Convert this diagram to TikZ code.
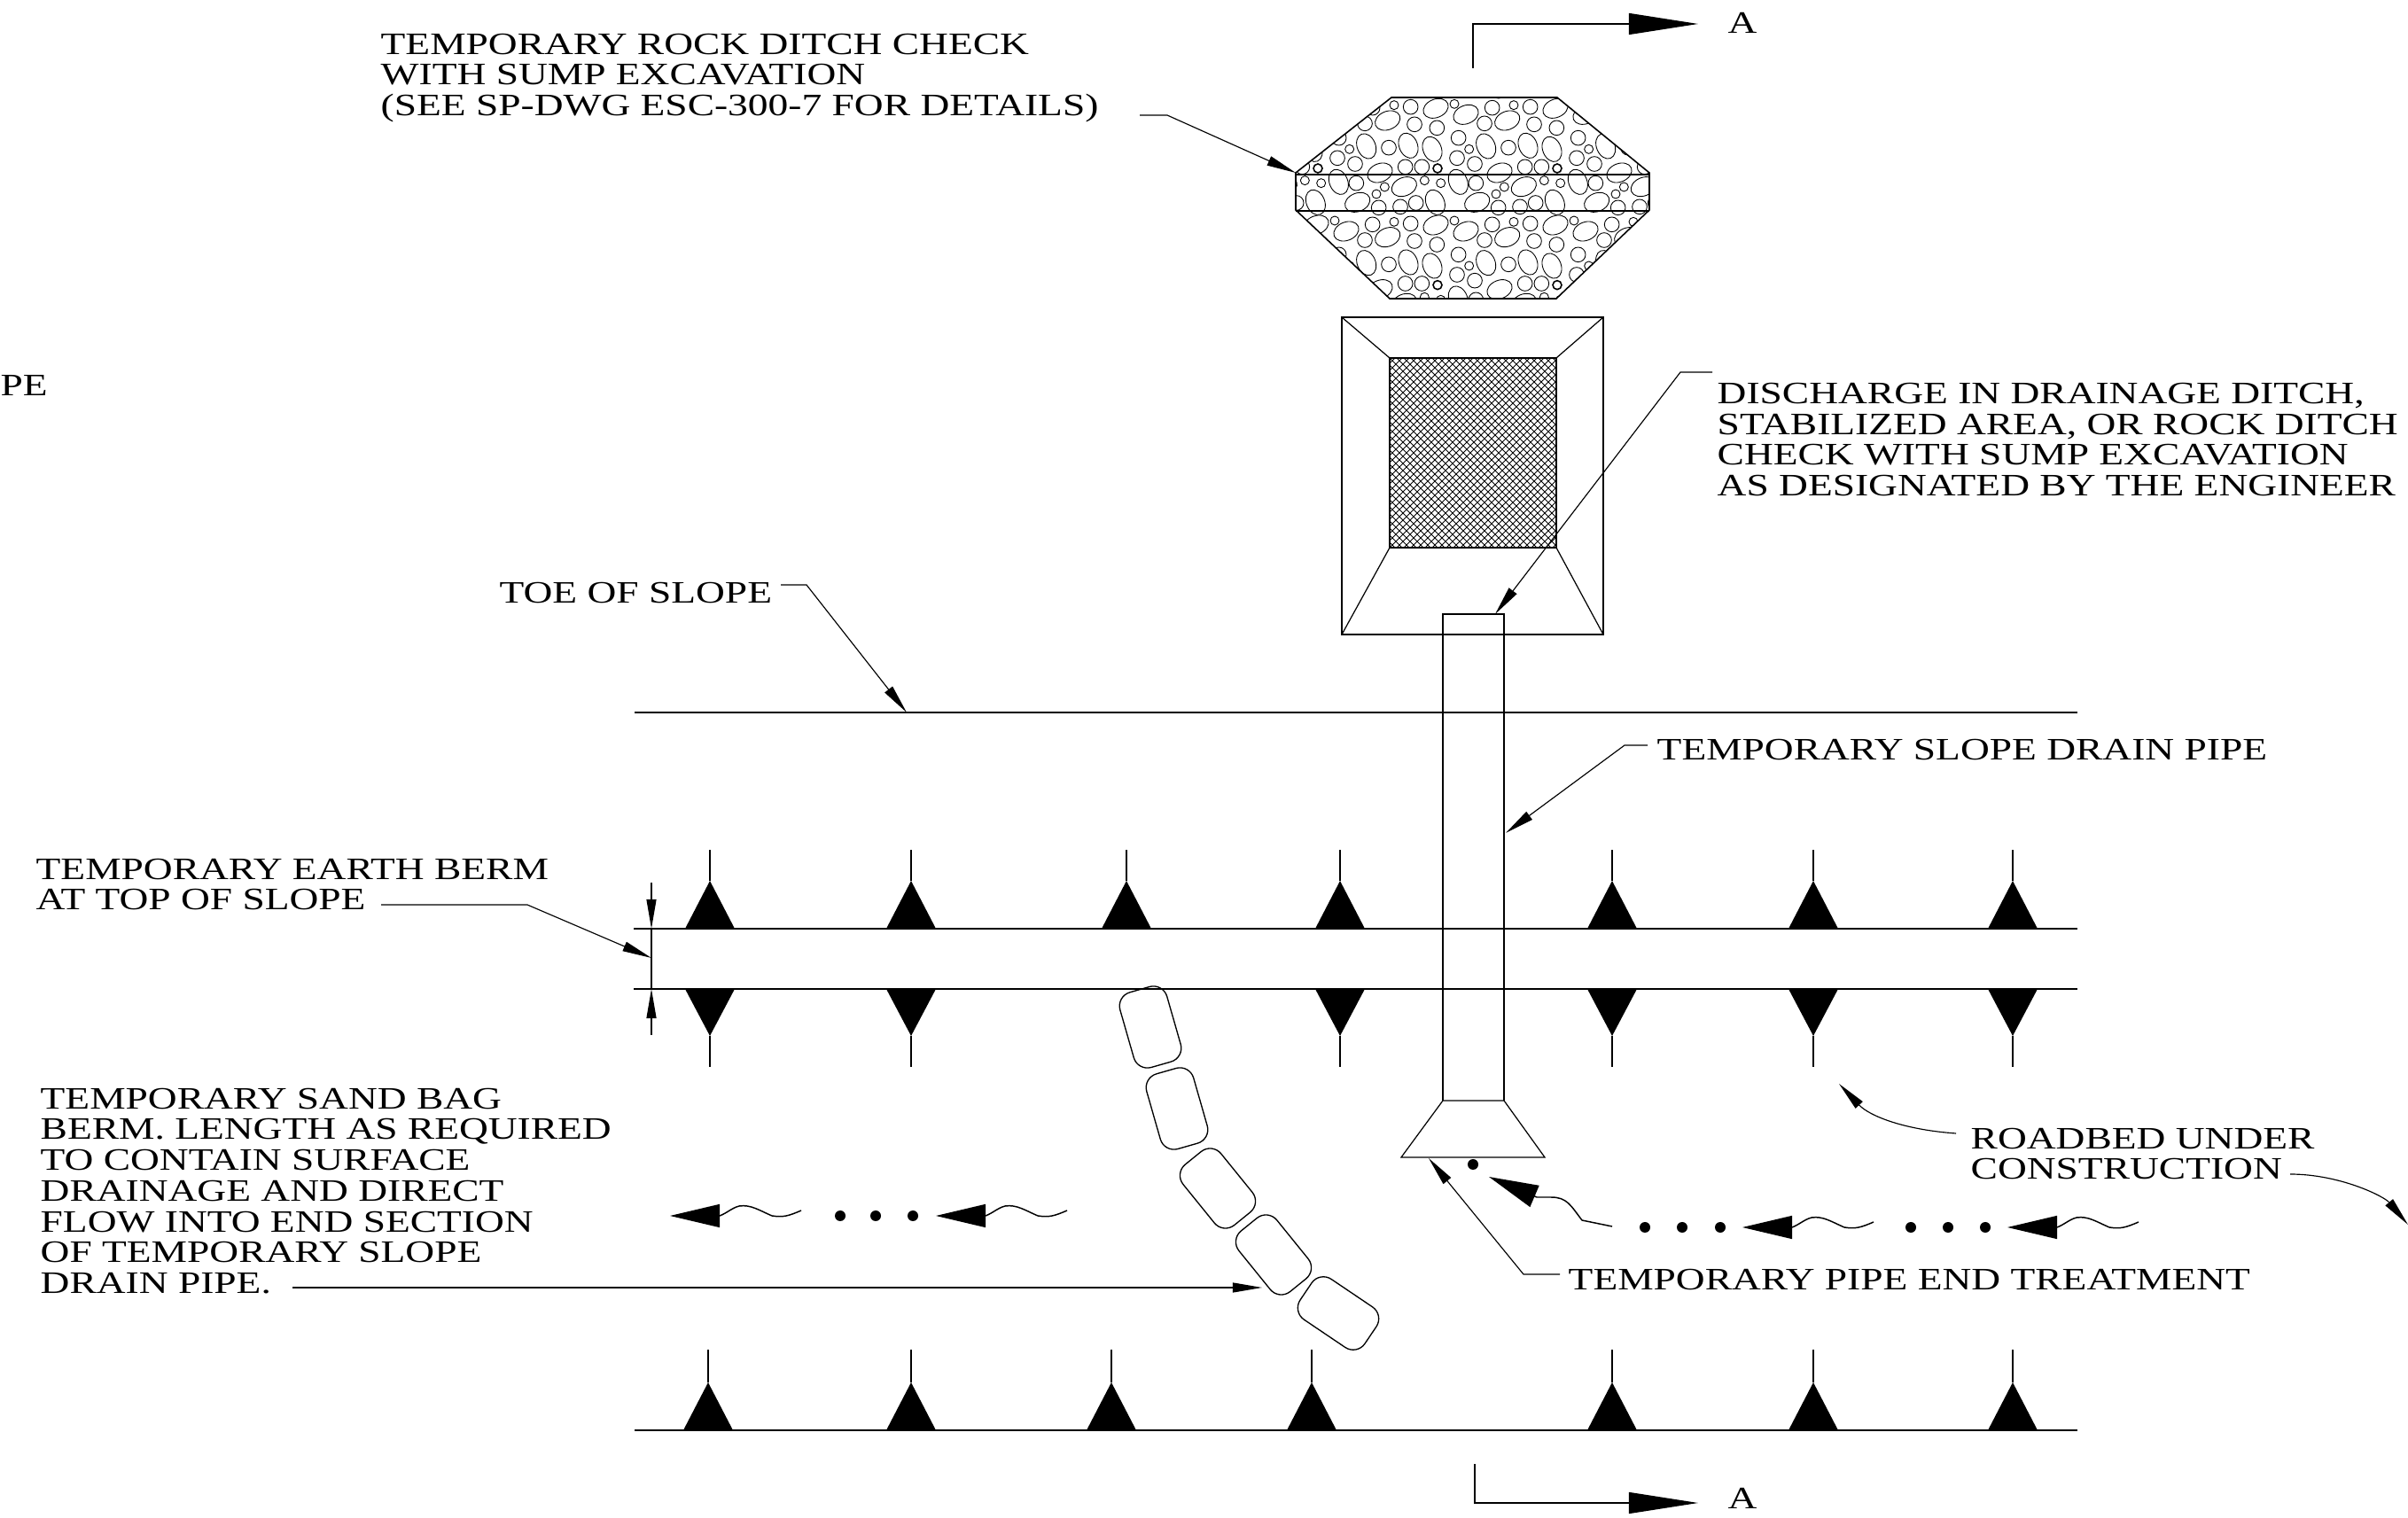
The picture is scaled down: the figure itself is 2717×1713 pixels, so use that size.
\documentclass[tikz,border=0pt]{standalone}
\usepackage{fontspec}
\setmainfont[FakeStretch=1.293]{Liberation Serif}
\usetikzlibrary{arrows.meta}

\tikzset{
    label/.style={inner sep=0pt, anchor=west, align=left, font=\fontsize{10}{9.87}\selectfont},
    wall/.style={line width=0.45pt},
    rim/.style={line width=0.35pt},
    leader/.style={line width=0.33pt, -{Triangle[length=0.33cm,width=0.11cm]}},
    cutarrow/.style={line width=0.35pt, -{Triangle[length=0.78cm,width=0.24cm]}},
    flowarrow/.style={line width=0.42pt, -{Triangle[length=0.56cm,width=0.26cm]}},
    sandbag/.style={draw, line width=0.38pt, minimum width=0.55cm, minimum height=0.88cm, rounded corners=0.16cm},
    rock/.style={line width=0.25pt},
    hatch/.style={line width=0.25pt}
}

\begin{document}
\begin{tikzpicture}[x=0.01cm, y=-0.01cm]
    \useasboundingbox (0,0) rectangle (2717,1713);

    % rock ditch check
    \coordinate (hexW) at (1462,195);
    \begin{scope}
        \clip (1570,110) -- (1757,110) -- (1861,195) -- (1861,237) -- (1756,337) -- (1568,337) -- (1462,237) -- (hexW) -- cycle;
        \begin{scope}[shift={(1400,60)}, x=0.01cm/3, y=-0.01cm/3]
            \foreach \tx in {-810,-405,0,405} {
                \foreach \ty in {-395,0,395} {
                    \begin{scope}[shift={(\tx,\ty)}]
                        \foreach \ex/\ey/\ea in {660/187/22, 762/208/22, 902/228/22, 876/405/22, 958/452/22, 800/505/22,
                            830/315/-68, 972/313/-68, 648/325/-68, 736/436/-68, 658/505/-68}
                            \draw[rock, shift={(\ex,\ey)}, rotate=\ea] (0,0) ellipse [x radius=44, y radius=31];
                        \foreach \cx/\cy in {851/185, 980/182, 825/238, 993/241, 664/253, 737/287, 906/320, 732/355,
                            792/375, 962/385, 1018/385, 796/440, 872/523, 945/520, 998/507}
                            \draw[rock] (\cx,\cy) circle [radius=25];
                        \foreach \cx/\cy in {723/172, 924/176, 773/325, 892/453, 1027/431, 677/440, 864/477}
                            \draw[rock] (\cx,\cy) circle [radius=15];
                        \draw[wall] (666,390) circle [radius=15];
                    \end{scope}
                }
            }
        \end{scope}
    \end{scope}
    \draw[wall] (1570,110) -- (1757,110) -- (1861,195) -- (1861,237) -- (1756,337) -- (1568,337) -- (1462,237) -- (hexW) -- cycle;
    \draw[wall] (1462,197) -- (1861,197);
    \draw[wall] (1462,238) -- (1861,238);

    % sump
    \begin{scope}
        \clip (1568,404) rectangle (1756,618);
        \foreach \hx in {1352,1360,...,1756} {
            \draw[hatch] (\hx,404) -- (\hx+214,618);
            \draw[hatch] (\hx+214,404) -- (\hx,618);
        }
    \end{scope}
    \draw[rim] (1514,358) rectangle (1809,716);
    \draw[wall] (1568,404) rectangle (1756,618);
    \draw[rim] (1514,358) -- (1568,404);
    \draw[rim] (1809,358) -- (1756,404);
    \draw[rim] (1514,716) -- (1568,618);
    \draw[rim] (1809,716) -- (1756,618);

    % pipe and end treatment
    \draw[rim] (1628,1242) -- (1628,693) -- (1697,693) -- (1697,1242);
    \draw[rim] (1628,1242) -- (1697,1242) -- (1743,1306) -- (1581,1306) -- cycle;

    % slope lines
    \draw[wall] (716,804) -- (2344,804);
    \draw[wall] (715,1048) -- (2344,1048);
    \draw[wall] (715,1116) -- (2344,1116);
    \draw[wall] (716,1614) -- (2344,1614);

    % hachures
    \foreach \tx in {801,1028,1271,1512,1819,2046,2271} {
        \fill (\tx-28,1048) -- (\tx+28,1048) -- (\tx,994) -- cycle;
        \draw[rim] (\tx,994) -- (\tx,959);
    }
    \foreach \tx in {801,1028,1512,1819,2046,2271} {
        \fill (\tx-28,1116) -- (\tx+28,1116) -- (\tx,1169) -- cycle;
        \draw[rim] (\tx,1169) -- (\tx,1204);
    }
    \foreach \tx in {799,1028,1254,1480,1819,2046,2271} {
        \fill (\tx-28,1614) -- (\tx+28,1614) -- (\tx,1560) -- cycle;
        \draw[rim] (\tx,1560) -- (\tx,1523);
    }

    % berm width
    \coordinate (bermA) at (735,996);
    \coordinate (bermB) at (735,1048);
    \coordinate (bermC) at (735,1116);
    \coordinate (bermD) at (735,1168);
    \draw[rim] (bermB) -- (bermC);
    \draw[leader] (bermA) -- (bermB);
    \draw[leader] (bermD) -- (bermC);

    % sand bags
    \node[sandbag, rotate=16] (bag1) at (1298,1159) {};
    \node[sandbag, rotate=16] (bag2) at (1328,1251) {};
    \node[sandbag, rotate=39] (bag3) at (1374,1341) {};
    \node[sandbag, rotate=39] (bag4) at (1437,1416) {};
    \node[sandbag, rotate=56] (bag5) at (1510,1482) {};

    % flow
    \foreach \bx/\by in {812/1372,1112/1372,2022/1385,2321/1385}
        \draw[flowarrow] (\bx+92,\by-6) .. controls (\bx+78,\by) and (\bx+72,\by+2) .. (\bx+59,\by)
            .. controls (\bx+45,\by-6) and (\bx+35,\by-13) .. (\bx+22,\by-11)
            .. controls (\bx+14,\by-9) and (\bx+8,\by-3) .. (\bx,\by) -- (\bx-56,\by);
    \draw[flowarrow] (1819,1384) -- (1785,1377) .. controls (1772,1360) and (1768,1351) .. (1750,1351) -- (1734,1351) -- (1680,1328);
    \foreach \dx/\dy in {948/1372,988/1372,1030/1372,1856/1385,1898/1385,1941/1385,2156/1385,2198/1385,2240/1385,1662/1314}
        \fill (\dx,\dy) circle [radius=6];

    % section marks
    \node[label] (cutTop) at (1949,26) {A};
    \node[label] (cutBot) at (1949,1691) {A};
    \coordinate (cutTopS) at (1662,77);
    \coordinate (cutTopK) at (1662,27);
    \coordinate (cutTopE) at (1916,27);
    \coordinate (cutBotS) at (1664,1652);
    \coordinate (cutBotK) at (1664,1696);
    \coordinate (cutBotE) at (1916,1696);
    \draw[cutarrow] (cutTopS) -- (cutTopK) -- (cutTopE);
    \draw[cutarrow] (cutBotS) -- (cutBotK) -- (cutBotE);

    % labels
    \node[label] (rockText) at (429,88) {TEMPORARY ROCK DITCH CHECK\\WITH SUMP EXCAVATION\\(SEE SP-DWG ESC-300-7 FOR DETAILS)};
    \node[label] (cutText) at (0,435) {PE};
    \node[label] (dischText) at (1937,496) {DISCHARGE IN DRAINAGE DITCH,\\STABILIZED AREA, OR ROCK DITCH\\CHECK WITH SUMP EXCAVATION\\AS DESIGNATED BY THE ENGINEER};
    \node[label] (toeText) at (563,669) {TOE OF SLOPE};
    \node[label] (pipeText) at (1869,846) {TEMPORARY SLOPE DRAIN PIPE};
    \node[label] (bermText) at (40,998) {TEMPORARY EARTH BERM\\AT TOP OF SLOPE};
    \node[label] (bagText) at (45,1344) {TEMPORARY SAND BAG\\BERM. LENGTH AS REQUIRED\\TO CONTAIN SURFACE\\DRAINAGE AND DIRECT\\FLOW INTO END SECTION\\OF TEMPORARY SLOPE\\DRAIN PIPE.};
    \node[label] (roadText) at (2223,1302) {ROADBED UNDER\\CONSTRUCTION};
    \node[label] (endText) at (1769,1444) {TEMPORARY PIPE END TREATMENT};

    % leaders
    \coordinate (rockS) at (1286,130);
    \coordinate (rockK) at (1317,130);
    \draw[leader] (rockS) -- (rockK) -- (hexW);
    \coordinate (dischS) at (1932,420);
    \coordinate (dischK) at (1896,420);
    \coordinate (dischE) at (1687,693);
    \draw[leader] (dischS) -- (dischK) -- (dischE);
    \coordinate (toeS) at (881,660);
    \coordinate (toeK) at (910,660);
    \coordinate (toeE) at (1023,804);
    \draw[leader] (toeS) -- (toeK) -- (toeE);
    \coordinate (pipeS) at (1859,841);
    \coordinate (pipeK) at (1833,841);
    \coordinate (pipeE) at (1699,940);
    \draw[leader] (pipeS) -- (pipeK) -- (pipeE);
    \coordinate (bermS) at (430,1021);
    \coordinate (bermK) at (595,1021);
    \coordinate (bermE) at (735,1081);
    \draw[leader] (bermS) -- (bermK) -- (bermE);
    \coordinate (bagS) at (330,1453);
    \coordinate (bagE) at (1424,1453);
    \draw[leader] (bagS) -- (bagE);
    \coordinate (roadA) at (2207,1279);
    \coordinate (roadB) at (2075,1223);
    \draw[leader] (roadA) .. controls (2150,1275) and (2110,1260) .. (roadB);
    \coordinate (roadC) at (2584,1325);
    \coordinate (roadD) at (2717,1382);
    \draw[leader] (roadC) .. controls (2640,1325) and (2690,1350) .. (roadD);
    \coordinate (endS) at (1760,1438);
    \coordinate (endK) at (1719,1438);
    \coordinate (endE) at (1612,1307);
    \draw[leader] (endS) -- (endK) -- (endE);
\end{tikzpicture}
\end{document}
